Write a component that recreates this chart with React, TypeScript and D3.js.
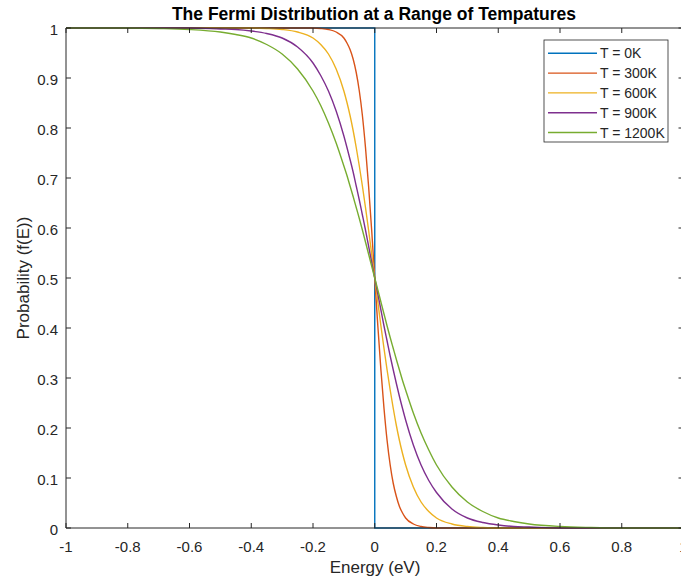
import React from "react";
import * as d3 from "d3";

// Energy samples (eV) shared by the finite-temperature curves
const energy = [
  -1, -0.9, -0.8, -0.7, -0.6, -0.5, -0.45, -0.4, -0.35, -0.3, -0.25, -0.2, -0.175, -0.15, -0.125,
  -0.1, -0.09, -0.08, -0.07, -0.06, -0.05, -0.04, -0.03, -0.02, -0.01, 0,
  0.01, 0.02, 0.03, 0.04, 0.05, 0.06, 0.07, 0.08, 0.09, 0.1,
  0.125, 0.15, 0.175, 0.2, 0.25, 0.3, 0.35, 0.4, 0.45, 0.5, 0.6, 0.7, 0.8, 0.9, 1,
];

const f300 = [
  1, 1, 1, 1, 1, 1, 1, 1, 1, 1, 1, 1, 0.999, 0.997, 0.992,
  0.980, 0.970, 0.957, 0.938, 0.911, 0.874, 0.825, 0.761, 0.684, 0.596, 0.5,
  0.404, 0.316, 0.239, 0.175, 0.126, 0.089, 0.063, 0.043, 0.030, 0.020,
  0.008, 0.003, 0.001, 0, 0, 0, 0, 0, 0, 0, 0, 0, 0, 0, 0,
];

const f600 = [
  1, 1, 1, 1, 1, 1, 1, 1, 0.999, 0.997, 0.992, 0.980, 0.967, 0.948, 0.918,
  0.874, 0.851, 0.825, 0.795, 0.761, 0.724, 0.684, 0.641, 0.596, 0.548, 0.5,
  0.452, 0.404, 0.359, 0.316, 0.276, 0.239, 0.205, 0.175, 0.149, 0.126,
  0.082, 0.052, 0.033, 0.020, 0.008, 0.003, 0.001, 0, 0, 0, 0, 0, 0, 0, 0,
];

const f900 = [
  1, 1, 1, 1, 1, 0.998, 0.997, 0.994, 0.989, 0.980, 0.962, 0.930, 0.905, 0.874, 0.834,
  0.784, 0.761, 0.737, 0.712, 0.684, 0.656, 0.626, 0.596, 0.564, 0.532, 0.5,
  0.468, 0.436, 0.404, 0.374, 0.344, 0.316, 0.289, 0.263, 0.239, 0.216,
  0.166, 0.126, 0.095, 0.071, 0.038, 0.020, 0.011, 0.006, 0.003, 0.002, 0, 0, 0, 0, 0,
];

const f1200 = [
  1, 1, 1, 0.999, 0.997, 0.992, 0.987, 0.980, 0.967, 0.948, 0.918, 0.874, 0.845, 0.810, 0.770,
  0.724, 0.705, 0.684, 0.663, 0.641, 0.619, 0.596, 0.572, 0.548, 0.524, 0.5,
  0.476, 0.452, 0.428, 0.404, 0.381, 0.359, 0.337, 0.316, 0.295, 0.276,
  0.230, 0.190, 0.156, 0.126, 0.082, 0.052, 0.033, 0.020, 0.013, 0.008, 0.003, 0.001, 0, 0, 0,
];

// Absolute-zero step function
const energy0K = [-1, 0, 0, 1];
const f0K = [1, 1, 0, 0];

const seriesLabels = ["T = 0K", "T = 300K", "T = 600K", "T = 900K", "T = 1200K"];
const seriesColors = ["#0072BD", "#D95319", "#EDB120", "#7E2F8E", "#77AC30"];

const xTicks = [-1, -0.8, -0.6, -0.4, -0.2, 0, 0.2, 0.4, 0.6, 0.8, 1];
const yTicks = [0, 0.1, 0.2, 0.3, 0.4, 0.5, 0.6, 0.7, 0.8, 0.9, 1];

const W = 681;
const H = 583;
const left = 66;
const right = 683.5;
const top = 28;
const bottom = 528;
const axisColor = "#262626";
const font = "'Liberation Sans', Arial, Helvetica, sans-serif";

export default function App() {
  const x = d3.scaleLinear().domain([-1, 1]).range([left, right]);
  const y = d3.scaleLinear().domain([0, 1]).range([bottom, top]);

  const smooth = d3
    .line<[number, number]>()
    .x((d) => x(d[0]))
    .y((d) => y(d[1]))
    .curve(d3.curveMonotoneX);
  const straight = d3
    .line<[number, number]>()
    .x((d) => x(d[0]))
    .y((d) => y(d[1]));

  const zip = (xs: number[], ys: number[]) => xs.map((v, i) => [v, ys[i]] as [number, number]);

  const paths = [
    straight(zip(energy0K, f0K)),
    smooth(zip(energy, f300)),
    smooth(zip(energy, f600)),
    smooth(zip(energy, f900)),
    smooth(zip(energy, f1200)),
  ];

  const tickLen = 5;
  const fmt = (v: number) => String(Number(v.toFixed(1)));

  // legend geometry
  const lgX = 544;
  const lgY = 40;
  const lgW = 124;
  const lgH = 102;
  const rowH = 19.8;

  return (
    <svg
      width={W}
      height={H}
      style={{ position: "absolute", left: 0, top: 0, background: "#fff" }}
      fontFamily={font}
    >
      <defs>
        <clipPath id="plotArea">
          <rect x={left} y={top - 1} width={right - left} height={bottom - top + 2} />
        </clipPath>
      </defs>
      <rect x={0} y={0} width={W} height={H} fill="#fff" />

      {/* Curves */}
      <g clipPath="url(#plotArea)">
        {paths.map((d, i) => (
          <path key={i} d={d || ""} fill="none" stroke={seriesColors[i]} strokeWidth={1.4} />
        ))}
      </g>

      {/* Axes box */}
      <g stroke={axisColor} strokeWidth={1} fill="none">
        <line x1={left} x2={right} y1={bottom} y2={bottom} />
        <line x1={left} x2={right} y1={top} y2={top} />
        <line x1={left} x2={left} y1={top} y2={bottom} />
        <line x1={right} x2={right} y1={top} y2={bottom} />
        {xTicks.map((t) => (
          <g key={"xt" + t}>
            <line x1={x(t)} x2={x(t)} y1={bottom} y2={bottom - tickLen} />
            <line x1={x(t)} x2={x(t)} y1={top} y2={top + tickLen} />
          </g>
        ))}
        {yTicks.map((t) => (
          <g key={"yt" + t}>
            <line x1={left} x2={left + tickLen} y1={y(t)} y2={y(t)} />
            <line x1={right} x2={right - tickLen} y1={y(t)} y2={y(t)} />
          </g>
        ))}
      </g>

      {/* Tick labels */}
      <g fill={axisColor} fontSize={15}>
        {xTicks.map((t) => (
          <text key={"xl" + t} x={x(t)} y={552} textAnchor="middle">
            {fmt(t)}
          </text>
        ))}
        {yTicks.map((t) => (
          <text key={"yl" + t} x={left - 8} y={y(t) + 7} textAnchor="end">
            {fmt(t)}
          </text>
        ))}
      </g>

      {/* Axis titles */}
      <text x={375} y={573} textAnchor="middle" fontSize={17} fill={axisColor}>
        Energy (eV)
      </text>
      <text
        transform={`translate(29, ${(top + bottom) / 2}) rotate(-90)`}
        textAnchor="middle"
        fontSize={17}
        fill={axisColor}
      >
        Probability (f(E))
      </text>
      <text x={374} y={20} textAnchor="middle" fontSize={17.5} fontWeight="bold" fill="#000">
        The Fermi Distribution at a Range of Tempatures
      </text>

      {/* Legend */}
      <g>
        <rect x={lgX} y={lgY} width={lgW} height={lgH} fill="#fff" stroke={axisColor} strokeWidth={0.8} />
        {seriesLabels.map((label, i) => {
          const cy = lgY + 13.3 + i * rowH;
          return (
            <g key={label}>
              <line x1={lgX + 4} x2={lgX + 53} y1={cy} y2={cy} stroke={seriesColors[i]} strokeWidth={1.4} />
              <text x={lgX + 56} y={cy + 5} fontSize={14} fill={axisColor}>
                {label}
              </text>
            </g>
          );
        })}
      </g>
    </svg>
  );
}
